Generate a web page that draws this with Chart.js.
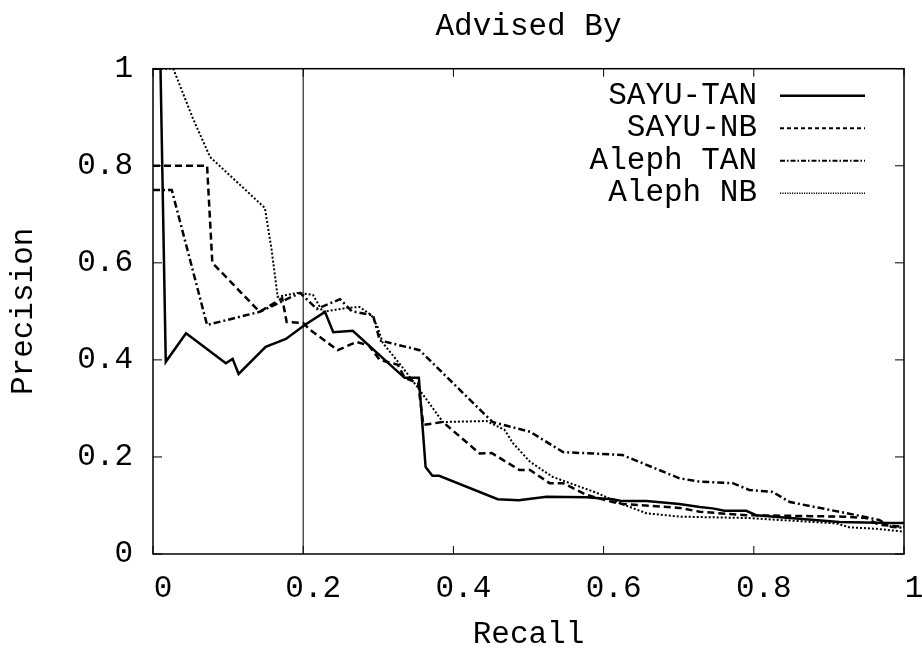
<!DOCTYPE html>
<html>
<head>
<meta charset="utf-8">
<script src="https://cdn.jsdelivr.net/npm/chart.js@4.4.1/dist/chart.umd.min.js"></script>
<style>
  html, body { margin: 0; padding: 0; background: #fff; }
  #wrap { width: 922px; height: 649px; }
</style>
</head>
<body>
<div id="wrap"><canvas id="pr"></canvas></div>
<script>
// ── Data ──────────────────────────────────────────────────────────
const sayuTanRecall = [0, 0.01, 0.017, 0.044, 0.097, 0.106, 0.114, 0.150, 0.177, 0.202, 0.229, 0.240, 0.266, 0.335, 0.354, 0.363, 0.372, 0.381, 0.459, 0.487, 0.524, 0.577, 0.612, 0.625, 0.657, 0.701, 0.728, 0.745, 0.761, 0.790, 0.803, 0.914, 0.981, 1.0];
const sayuTanPrec   = [1, 1, 0.396, 0.455, 0.393, 0.402, 0.371, 0.427, 0.443, 0.472, 0.499, 0.457, 0.46, 0.363, 0.363, 0.179, 0.161, 0.161, 0.113, 0.111, 0.118, 0.117, 0.113, 0.109, 0.109, 0.103, 0.097, 0.094, 0.089, 0.089, 0.080, 0.066, 0.064, 0.064];

const sayuNbRecall = [0, 0.072, 0.079, 0.142, 0.172, 0.178, 0.200, 0.209, 0.246, 0.271, 0.287, 0.302, 0.326, 0.335, 0.353, 0.360, 0.386, 0.435, 0.451, 0.488, 0.502, 0.528, 0.546, 0.577, 0.612, 0.625, 0.701, 0.728, 0.790, 0.918, 0.950, 0.967, 1.0];
const sayuNbPrec   = [0.8, 0.8, 0.6, 0.499, 0.527, 0.478, 0.476, 0.462, 0.42, 0.437, 0.43, 0.40, 0.39, 0.363, 0.352, 0.266, 0.272, 0.207, 0.208, 0.173, 0.173, 0.146, 0.146, 0.122, 0.107, 0.103, 0.095, 0.087, 0.08, 0.077, 0.074, 0.06, 0.056];

const alephTanRecall = [0, 0.025, 0.072, 0.142, 0.196, 0.218, 0.249, 0.265, 0.293, 0.302, 0.355, 0.452, 0.502, 0.546, 0.625, 0.701, 0.728, 0.772, 0.794, 0.825, 0.848, 0.914, 0.937, 0.967, 0.983, 1.0];
const alephTanPrec   = [0.75, 0.75, 0.472, 0.499, 0.538, 0.505, 0.525, 0.5, 0.492, 0.44, 0.42, 0.272, 0.252, 0.21, 0.204, 0.156, 0.149, 0.146, 0.132, 0.128, 0.107, 0.087, 0.08, 0.07, 0.056, 0.054];

const alephNbRecall = [0, 0.027, 0.053, 0.076, 0.149, 0.158, 0.166, 0.192, 0.213, 0.226, 0.258, 0.275, 0.291, 0.299, 0.306, 0.333, 0.355, 0.386, 0.444, 0.468, 0.479, 0.502, 0.532, 0.591, 0.621, 0.657, 0.701, 0.794, 0.91, 0.927, 0.963, 1.0];
const alephNbPrec   = [1, 1, 0.898, 0.818, 0.713, 0.626, 0.53, 0.538, 0.534, 0.499, 0.507, 0.509, 0.492, 0.468, 0.435, 0.383, 0.338, 0.272, 0.274, 0.256, 0.229, 0.19, 0.159, 0.126, 0.105, 0.084, 0.077, 0.074, 0.063, 0.055, 0.052, 0.046];

// reference line at recall = 0.2
const refRecall = [0.2, 0.2];
const refPrec   = [0, 1];

const seriesNames = ['SAYU-TAN', 'SAYU-NB', 'Aleph TAN', 'Aleph NB'];
const axisTicks = [0, 0.2, 0.4, 0.6, 0.8, 1];

const FONT = '"Liberation Mono", "Courier New", monospace';
const pts = (xs, ys) => xs.map((v, i) => ({ x: v, y: ys[i] }));

// legend samples are drawn a bit finer than the plotted curves (gnuplot key)
const keyStyles = [
    { width: 2.5, dash: [] },
    { width: 2, dash: [4, 3] },
    { width: 2, dash: [5, 2, 1.5, 2] },
    { width: 1.5, dash: [1.2, 1.2] },
];

// ── Frame, inward ticks and gnuplot-style legend ──────────────────
const framePlugin = {
    id: 'frame',
    afterDatasetsDraw(chart) {
        const { ctx, chartArea: a, scales: { x, y } } = chart;
        ctx.save();
        ctx.strokeStyle = '#000';
        ctx.setLineDash([]);
        ctx.lineWidth = 1.5;
        ctx.strokeRect(a.left, a.top, a.right - a.left, a.bottom - a.top);
        ctx.beginPath();
        axisTicks.forEach(v => {
            const px = x.getPixelForValue(v);
            ctx.moveTo(px, a.bottom); ctx.lineTo(px, a.bottom - 8);
            ctx.moveTo(px, a.top); ctx.lineTo(px, a.top + 8);
            const py = y.getPixelForValue(v);
            ctx.moveTo(a.left, py); ctx.lineTo(a.left + 9, py);
            ctx.moveTo(a.right, py); ctx.lineTo(a.right - 9, py);
        });
        ctx.lineWidth = 1;
        ctx.stroke();

        // legend
        ctx.font = '31px ' + FONT;
        ctx.fillStyle = '#000';
        ctx.textAlign = 'right';
        ctx.textBaseline = 'middle';
        seriesNames.forEach((name, i) => {
            const ly = a.top + 27 + 32.5 * i;
            ctx.fillText(name, a.right - 147, ly);
            ctx.beginPath();
            ctx.lineWidth = keyStyles[i].width;
            ctx.setLineDash(keyStyles[i].dash);
            ctx.moveTo(a.right - 124, ly);
            ctx.lineTo(a.right - 39, ly);
            ctx.stroke();
        });
        ctx.restore();
    }
};

const lineStyle = (label, data, width, dash) => ({
    label, data,
    showLine: true,
    borderColor: '#000',
    borderWidth: width,
    borderDash: dash,
    pointRadius: 0,
    tension: 0,
    fill: false,
});

new Chart(document.getElementById('pr'), {
    type: 'scatter',
    data: {
        datasets: [
            lineStyle('SAYU-TAN', pts(sayuTanRecall, sayuTanPrec), 2.5, []),
            lineStyle('SAYU-NB', pts(sayuNbRecall, sayuNbPrec), 2.5, [7, 4]),
            lineStyle('Aleph TAN', pts(alephTanRecall, alephTanPrec), 2.5, [7, 3, 2, 3]),
            lineStyle('Aleph NB', pts(alephNbRecall, alephNbPrec), 2, [2, 2]),
            lineStyle('ref', pts(refRecall, refPrec), 1, []),
        ]
    },
    options: {
        responsive: true,
        maintainAspectRatio: false,
        animation: false,
        layout: { padding: { top: 0, right: 18, bottom: 0, left: 0 } },
        plugins: {
            legend: { display: false },
            tooltip: { enabled: false },
            title: {
                display: true,
                text: 'Advised By',
                fullSize: false,
                color: '#000',
                font: { family: FONT, size: 31, weight: 'normal', lineHeight: 1 },
                padding: { top: 11, bottom: 26.7 },
            },
        },
        scales: {
            x: {
                type: 'linear',
                min: 0, max: 1,
                afterFit: s => { s.height = 95; s.paddingLeft = 0; s.paddingRight = 0; },
                afterBuildTicks: s => { s.ticks = axisTicks.map(v => ({ value: v })); },
                grid: { display: false, drawTicks: false },
                border: { display: false },
                ticks: {
                    color: '#000',
                    font: { family: FONT, size: 31 },
                    padding: 16,
                    labelOffset: 10,
                    maxRotation: 0,
                    callback: v => String(+v.toFixed(1)),
                },
                title: {
                    display: true, text: 'Recall', color: '#000',
                    font: { family: FONT, size: 31, lineHeight: 0.9 },
                    padding: { top: 0, bottom: 0 },
                },
            },
            y: {
                type: 'linear',
                min: 0, max: 1,
                afterFit: s => { s.width = 153; s.paddingTop = 0; s.paddingBottom = 0; },
                afterBuildTicks: s => { s.ticks = axisTicks.map(v => ({ value: v })); },
                grid: { display: false, drawTicks: false },
                border: { display: false },
                ticks: {
                    color: '#000',
                    font: { family: FONT, size: 31 },
                    padding: 20,
                    callback: v => String(+v.toFixed(1)),
                },
                title: {
                    display: true, text: 'Precision', color: '#000',
                    font: { family: FONT, size: 31, lineHeight: 1 },
                    padding: { top: 8, bottom: 0 },
                },
            },
        },
    },
    plugins: [framePlugin],
});
</script>
</body>
</html>
